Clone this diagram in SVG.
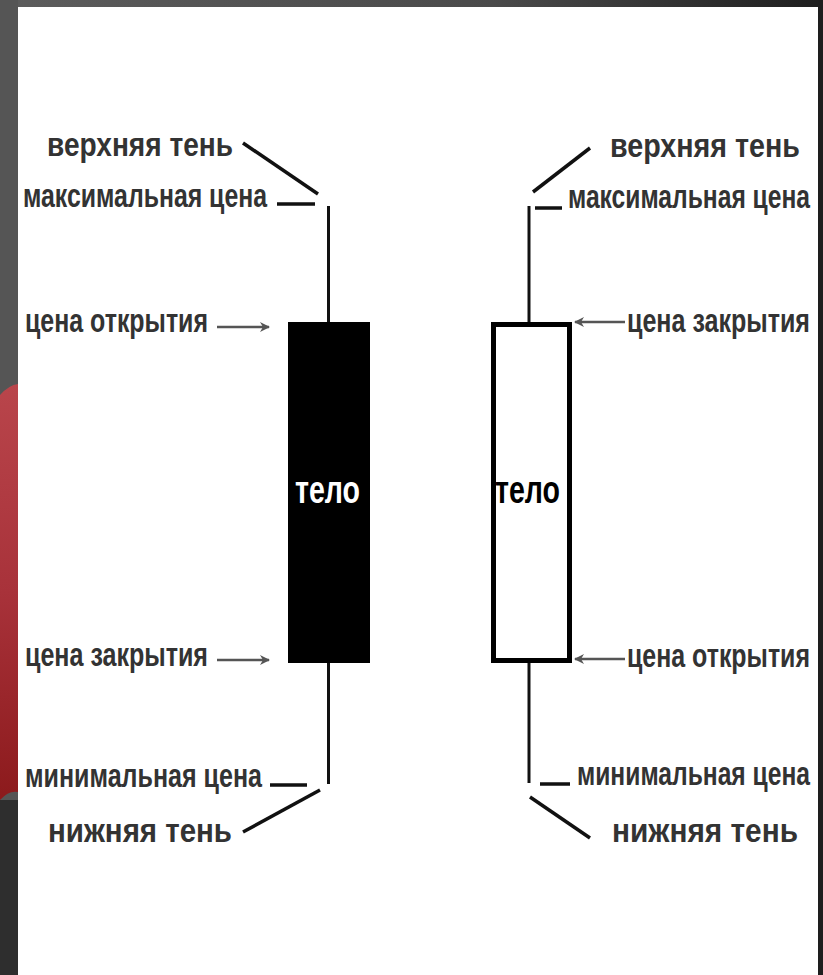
<svg xmlns="http://www.w3.org/2000/svg" width="823" height="975" viewBox="0 0 823 975">
  <defs>
    <linearGradient id="bgTop" x1="0" y1="0" x2="1" y2="0">
      <stop offset="0" stop-color="#5c5c5c"/>
      <stop offset="0.6" stop-color="#4a4a4a"/>
      <stop offset="1" stop-color="#1e1e1e"/>
    </linearGradient>
    <linearGradient id="redG" x1="0" y1="0" x2="0" y2="1">
      <stop offset="0" stop-color="#b9454b"/>
      <stop offset="0.5" stop-color="#a8323a"/>
      <stop offset="1" stop-color="#8c1a1c"/>
    </linearGradient>
    <marker id="arr" viewBox="0 0 10 10" refX="9" refY="5" markerWidth="4" markerHeight="4" markerUnits="strokeWidth" orient="auto">
      <path d="M0,0 L10,5 L0,10 L3,5 Z" fill="#555"/>
    </marker>
    <style>
      .lbl { font-family: "Liberation Sans", "DejaVu Sans", sans-serif; font-weight: bold; font-size: 34px; fill: #333; }
      .body { font-family: "Liberation Sans", "DejaVu Sans", sans-serif; font-weight: bold; font-size: 38px; }
      .wick { stroke: #111; stroke-width: 3; fill: none; }
      .lead { stroke: #111; stroke-width: 3.5; fill: none; }
      .arrow { stroke: #555; stroke-width: 2.5; fill: none; marker-end: url(#arr); }
    </style>
  </defs>

  <!-- background frame -->
  <rect x="0" y="0" width="823" height="975" fill="url(#bgTop)"/>
  <rect x="0" y="0" width="18" height="975" fill="#555"/>
  <path d="M0,395 Q9,385 18,384 L18,792 Q9,790 0,800 Z" fill="url(#redG)"/>
  <rect x="0" y="800" width="18" height="175" fill="#2e2e2e"/>
  <rect x="818" y="0" width="5" height="975" fill="#1e1e1e"/>
  <rect x="18" y="7" width="800" height="968" fill="#ffffff"/>

  <!-- connectors -->
  <g id="connectors">
    <line class="wick" x1="328.5" y1="206" x2="328.5" y2="323"/>
    <line class="wick" x1="328.5" y1="662" x2="328.5" y2="784"/>
    <line class="wick" x1="529" y1="206" x2="529" y2="323"/>
    <line class="wick" x1="529" y1="662" x2="529" y2="783"/>
    <line class="lead" x1="243" y1="143" x2="318" y2="194"/>
    <line class="lead" x1="277" y1="204" x2="315" y2="204"/>
    <line class="lead" x1="270" y1="785" x2="307" y2="785"/>
    <line class="lead" x1="320" y1="790" x2="243" y2="832"/>
    <line class="lead" x1="590" y1="148" x2="533" y2="192"/>
    <line class="lead" x1="535" y1="208" x2="562" y2="208"/>
    <line class="lead" x1="540" y1="784" x2="570" y2="784"/>
    <line class="lead" x1="530" y1="797" x2="590" y2="838"/>
    <line class="arrow" x1="217" y1="327" x2="269" y2="327"/>
    <line class="arrow" x1="217" y1="660" x2="269" y2="660"/>
    <line class="arrow" x1="625" y1="322" x2="575" y2="322"/>
    <line class="arrow" x1="625" y1="659" x2="575" y2="659"/>
  </g>

  <g id="candle-black">
    <rect x="288" y="322" width="82" height="341" fill="#000"/>
    <text class="body" x="295" y="503" fill="#fff" textLength="65" lengthAdjust="spacingAndGlyphs">тело</text>
  </g>

  <g id="candle-white">
    <rect x="493.5" y="324.5" width="76" height="336" fill="#fff" stroke="#000" stroke-width="5"/>
    <text class="body" x="495" y="503" fill="#000" textLength="65" lengthAdjust="spacingAndGlyphs">тело</text>
  </g>

  <g id="labels-left">
    <text class="lbl" x="47" y="156" textLength="186" lengthAdjust="spacingAndGlyphs">верхняя тень</text>
    <text class="lbl" x="23" y="207" textLength="244" lengthAdjust="spacingAndGlyphs">максимальная цена</text>
    <text class="lbl" x="25" y="332" textLength="183" lengthAdjust="spacingAndGlyphs">цена открытия</text>
    <text class="lbl" x="25" y="666" textLength="183" lengthAdjust="spacingAndGlyphs">цена закрытия</text>
    <text class="lbl" x="25" y="787" textLength="237" lengthAdjust="spacingAndGlyphs">минимальная цена</text>
    <text class="lbl" x="48" y="842" textLength="184" lengthAdjust="spacingAndGlyphs">нижняя тень</text>
  </g>

  <g id="labels-right">
    <text class="lbl" x="610" y="157" textLength="190" lengthAdjust="spacingAndGlyphs">верхняя тень</text>
    <text class="lbl" x="568" y="208" textLength="242" lengthAdjust="spacingAndGlyphs">максимальная цена</text>
    <text class="lbl" x="627" y="332" textLength="183" lengthAdjust="spacingAndGlyphs">цена закрытия</text>
    <text class="lbl" x="627" y="667" textLength="183" lengthAdjust="spacingAndGlyphs">цена открытия</text>
    <text class="lbl" x="577" y="785" textLength="233" lengthAdjust="spacingAndGlyphs">минимальная цена</text>
    <text class="lbl" x="612" y="842" textLength="186" lengthAdjust="spacingAndGlyphs">нижняя тень</text>
  </g>
</svg>
